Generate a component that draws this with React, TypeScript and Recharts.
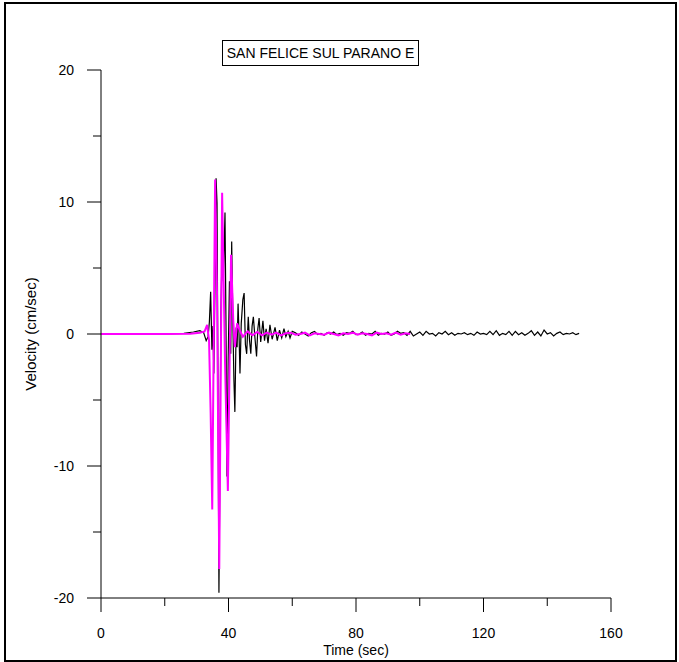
import React from "react";
import { LineChart, Line, XAxis, YAxis } from "recharts";

// black record (time in sec, velocity in cm/sec)
const blackTime = [
  0, 10, 20, 26, 29, 31, 32.2, 33.0, 33.6, 34.0, 34.4, 34.8, 35.1, 35.4, 35.8,
  36.1, 36.4, 36.7, 37.0, 37.3, 37.6, 38.0, 38.4, 38.9, 39.2, 39.5, 39.9, 40.3,
  40.7, 41.0, 41.4, 41.7, 42.0, 42.4, 42.7, 43.0, 43.3, 43.6, 44.0, 44.5, 44.9,
  45.3, 45.7, 46.2, 46.6, 47.0, 47.4, 47.8, 48.3, 48.8, 49.2, 49.6, 50.1, 50.8,
  51.3, 51.8, 52.4, 53.0, 53.7, 54.6, 55.3, 56.0, 56.7, 57.4, 58.0, 58.7, 59.3,
  60, 61, 62, 63, 64, 65, 66, 67, 68, 69, 70, 71, 72, 73, 74, 75, 76, 77, 78,
  79, 80, 81, 82, 83, 84, 85, 86, 87, 88, 89, 90, 91, 92, 93, 94, 95, 96, 97,
  98, 99, 100, 101, 102, 103, 104, 105, 106, 107, 108, 109, 110, 111, 112, 113,
  114, 115, 116, 117, 118, 119, 120, 121, 122, 123, 124, 125, 126, 127, 128,
  129, 130, 131, 132, 133, 134, 135, 136, 137, 138, 139, 140, 141, 142, 143,
  144, 145, 146, 147, 148, 149, 150,
];
const blackVel = [
  0, 0, 0, 0.05, 0.15, 0.25, 0.1, -0.5, -0.2, 0.9, 3.2, -1.2, 0.6, -3.0, 4.5,
  11.8, 9.9, -4.0, -19.6, -10.0, 1.5, 6.5, 4.0, 9.2, 1.0, -10.8, -2.0, 4.0,
  -1.5, 7.0, 0.5, -3.5, -5.9, 0.5, -1.0, 2.3, 0.0, -3.0, 0.8, 2.6, 3.1, -0.8,
  -1.5, 1.3, -0.5, -1.5, 0.6, 1.3, -0.3, -1.7, 0.4, 1.2, -0.6, 1.0, -0.5, 0.4,
  -0.7, 0.7, -0.4, 0.5, -0.5, 0.3, -0.3, 0.4, -0.2, 0.2, -0.3, 0.2, 0.1, -0.1,
  0.15, 0.0, -0.15, 0.1, 0.2, -0.05, 0.05, -0.1, 0.1, 0.0, 0.15, -0.05, 0.05,
  -0.1, 0.1, 0.05, 0.2, -0.05, 0.0, 0.15, -0.1, 0.05, 0.0, 0.2, -0.1, 0.05,
  0.0, 0.15, -0.1, 0.0, 0.2, 0.05, 0.1, -0.1, 0.2, -0.15, 0.0, 0.15, -0.1, 0.2,
  0.0, 0.05, -0.15, 0.1, 0.0, 0.2, -0.05, 0.1, -0.1, 0.05, 0.0, 0.1, -0.05,
  0.05, -0.1, 0.15, 0.0, 0.05, -0.05, 0.2, -0.05, 0.25, -0.1, 0.05, -0.05, 0.2,
  -0.1, 0.2, -0.05, 0.1, -0.1, 0.05, 0.25, -0.1, 0.15, -0.15, 0.3, 0.0, 0.1,
  -0.15, 0.05, 0.15, -0.05, 0.05, 0.0, 0.1, -0.05, 0.05,
];

// magenta record
const magentaTime = [
  0, 10, 20, 28, 31, 32.5, 33.3, 33.9, 34.4, 34.9, 35.8, 36.4, 37.1, 38.0, 38.9,
  39.8, 40.8, 41.5, 42.0, 42.7, 43.5, 44.5, 46, 47.5, 49, 50.5, 52, 53.5, 55,
  56.5, 58, 59.5, 61, 62.5, 64, 65.5, 67, 68.5, 70, 71.5, 73, 74.5, 76, 77.5,
  79, 80.5, 82, 83.5, 85, 86.5, 88, 89.5, 91, 92.5, 94, 95.5, 97,
];
const magentaVel = [
  0, 0, 0, 0.02, 0.1, 0.2, 0.7, -0.5, -6.0, -13.3, 11.7, 3.0, -17.8, 10.7,
  -2.0, -11.9, 6.0, 1.0, -1.0, 0.8, 0.3, -0.2, 0.2, -0.1, 0.15, -0.1, 0.1,
  -0.05, 0.1, -0.1, 0.05, 0.1, -0.05, 0.0, 0.1, -0.1, 0.05, 0.0, -0.05, 0.1,
  0.0, -0.1, 0.05, 0.0, 0.1, -0.05, 0.05, 0.0, -0.1, 0.1, 0.0, 0.05, -0.05,
  0.1, -0.05, 0.05, 0.0,
];

const xTicks = [0, 20, 40, 60, 80, 100, 120, 140, 160];
const yTicks = [-20, -15, -10, -5, 0, 5, 10, 15, 20];

const FONT = "'Liberation Sans', Arial, sans-serif";

const blackData = blackTime.map((t, i) => ({ t, v: blackVel[i] }));
const magentaData = magentaTime.map((t, i) => ({ t, v: magentaVel[i] }));

const YTick = ({ x, y, payload }: any) => {
  const major = payload.value % 10 === 0;
  return (
    <g>
      <line x1={x - (major ? 14 : 8)} y1={y} x2={x} y2={y} stroke="#000" />
      {major && (
        <text x={x - 27} y={y} dy={5} textAnchor="end" fontSize={14} fontFamily={FONT} fill="#000">
          {payload.value}
        </text>
      )}
    </g>
  );
};

const XTick = ({ x, y, payload }: any) => {
  const major = payload.value % 40 === 0;
  return (
    <g>
      <line x1={x} y1={y} x2={x} y2={y + (major ? 14 : 8)} stroke="#000" />
      {major && (
        <text x={x} y={y + 40} textAnchor="middle" fontSize={14} fontFamily={FONT} fill="#000">
          {payload.value}
        </text>
      )}
    </g>
  );
};

export default function App() {
  return (
    <div style={{ position: "absolute", left: 0, top: 0, width: 679, height: 662, background: "#fff" }}>
      <div
        style={{
          position: "absolute",
          left: 4,
          top: 2,
          width: 673,
          height: 660,
          border: "2px solid #000",
          boxSizing: "border-box",
        }}
      />
      <LineChart
        width={679}
        height={662}
        margin={{ top: 70, right: 68, bottom: 4, left: 0 }}
      >
        <XAxis
          dataKey="t"
          type="number"
          domain={[0, 160]}
          ticks={xTicks}
          interval={0}
          tickSize={0}
          tickMargin={0}
          tickLine={false}
          tick={<XTick />}
          stroke="#000"
          height={60}
          allowDuplicatedCategory={false}
          label={{
            value: "Time (sec)",
            position: "insideBottom",
            offset: 3,
            fontSize: 14,
            fontFamily: FONT,
            fill: "#000",
          }}
        />
        <YAxis
          type="number"
          domain={[-20, 20]}
          ticks={yTicks}
          interval={0}
          tickSize={0}
          tickMargin={0}
          tickLine={false}
          tick={<YTick />}
          stroke="#000"
          width={101}
          label={{
            content: ({ viewBox }: any) => {
              const cx = viewBox.x + 30;
              const cy = viewBox.y + viewBox.height / 2;
              return (
                <text
                  x={cx}
                  y={cy}
                  textAnchor="middle"
                  dominantBaseline="central"
                  transform={`rotate(-90 ${cx} ${cy})`}
                  fontSize={15}
                  fontFamily={FONT}
                  fill="#000"
                >
                  Velocity (cm/sec)
                </text>
              );
            },
          }}
        />
        <Line
          data={blackData}
          dataKey="v"
          type="linear"
          stroke="#000"
          strokeWidth={1.2}
          dot={false}
          activeDot={false}
          isAnimationActive={false}
        />
        <Line
          data={magentaData}
          dataKey="v"
          type="linear"
          stroke="#ff00ff"
          strokeWidth={2}
          dot={false}
          activeDot={false}
          isAnimationActive={false}
        />
      </LineChart>
      <div
        style={{
          position: "absolute",
          left: 222,
          top: 40,
          width: 197,
          height: 26,
          border: "1px solid #000",
          boxSizing: "border-box",
          fontFamily: FONT,
          fontSize: 14,
          lineHeight: "24px",
          textAlign: "center",
          color: "#000",
          background: "#fff",
        }}
      >
        SAN FELICE SUL PARANO E
      </div>
    </div>
  );
}
